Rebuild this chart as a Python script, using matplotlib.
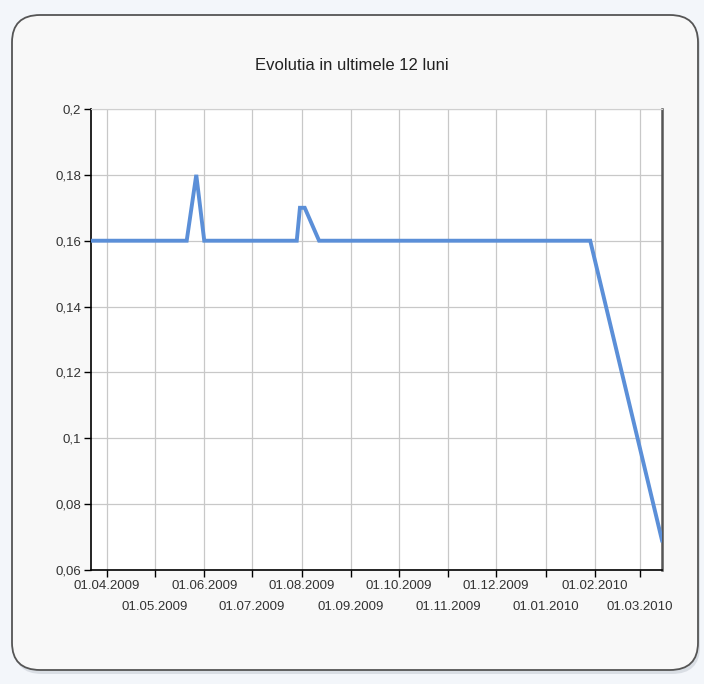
#!/usr/bin/env python3

import matplotlib
matplotlib.use("Agg")
import matplotlib.pyplot as plt
from matplotlib.patches import FancyBboxPatch
import pandas as pd

OUT_PNG = "out.png"
TITLE = "Evolutia in ultimele 12 luni"

# points (vertices of the line)
dates = ["2009-03-22", "2009-05-21", "2009-05-27", "2009-06-01",
         "2009-07-29", "2009-07-31", "2009-08-03", "2009-08-12",
         "2010-01-29", "2010-03-15"]
values = [0.16, 0.16, 0.18, 0.16,
          0.16, 0.17, 0.17, 0.16,
          0.16, 0.069]

y_ticks = [0.06, 0.08, 0.1, 0.12, 0.14, 0.16, 0.18, 0.2]
y_labels = ["0,06", "0,08", "0,1", "0,12", "0,14", "0,16", "0,18", "0,2"]
month_ticks = pd.date_range("2009-04-01", "2010-03-01", freq="MS")

plt.rcParams["font.family"] = ["Liberation Sans", "DejaVu Sans"]

if __name__ == "__main__":

    x = pd.to_datetime(dates)

    fig = plt.figure(figsize=(7.04, 6.84), dpi=100)
    fig.patch.set_facecolor("#f3f6fa")

    # rounded panel behind the chart
    W, H = 704, 684
    shadow = FancyBboxPatch((14 / W, 1 - 674 / H), 686 / W, 656 / H,
                            boxstyle="round,pad=0,rounding_size=0.04",
                            transform=fig.transFigure, facecolor="#c9ced6",
                            edgecolor="none", alpha=0.6, zorder=-2)
    panel = FancyBboxPatch((12 / W, 1 - 670 / H), 686 / W, 655 / H,
                           boxstyle="round,pad=0,rounding_size=0.04",
                           transform=fig.transFigure, facecolor="#f8f8f8",
                           edgecolor="#555555", linewidth=1.3, zorder=-1)
    fig.patches.extend([shadow, panel])

    ax = fig.add_axes([91 / W, 1 - 570 / H, (662 - 91) / W, (570 - 109) / H])
    ax.set_zorder(2)
    ax.set_facecolor("white")

    ax.plot(x, values, color="#5b8fd8", linewidth=2.8, solid_joinstyle="miter",
            zorder=3)

    ax.set_xlim(x[0], x[-1])
    ax.set_ylim(0.06, 0.2)
    ax.set_yticks(y_ticks)
    ax.set_yticklabels(y_labels)

    # odd months on the first row, even months on the second row
    row1 = month_ticks[::2]
    row2 = month_ticks[1::2]
    ax.set_xticks(row1)
    ax.set_xticklabels([d.strftime("%d.%m.%Y") for d in row1])
    ax.set_xticks(row2, minor=True)
    ax.set_xticklabels([d.strftime("%d.%m.%Y") for d in row2], minor=True)

    ax.grid(True, which="both", axis="x", color="#c8c8c8", linewidth=0.9, zorder=1)
    ax.grid(True, which="major", axis="y", color="#c8c8c8", linewidth=0.9, zorder=1)
    ax.tick_params(axis="both", which="both", direction="out", length=5, width=1,
                   colors="black", labelsize=9.5, labelcolor="#333333")
    ax.tick_params(axis="x", which="major", pad=2)
    ax.tick_params(axis="x", which="minor", pad=17)
    ax.tick_params(axis="y", pad=2)

    ax.spines["left"].set_color("black")
    ax.spines["bottom"].set_color("black")
    ax.spines["left"].set_linewidth(1.2)
    ax.spines["bottom"].set_linewidth(1.2)
    ax.spines["right"].set_color("#555555")
    ax.spines["right"].set_linewidth(1.8)
    ax.spines["top"].set_color("#d0d0d0")

    fig.text(352 / W, 1 - 65 / H, TITLE, ha="center", va="center",
             fontsize=12, color="#222222")

    plt.savefig(OUT_PNG, dpi=100, facecolor=fig.get_facecolor())
    plt.close()
